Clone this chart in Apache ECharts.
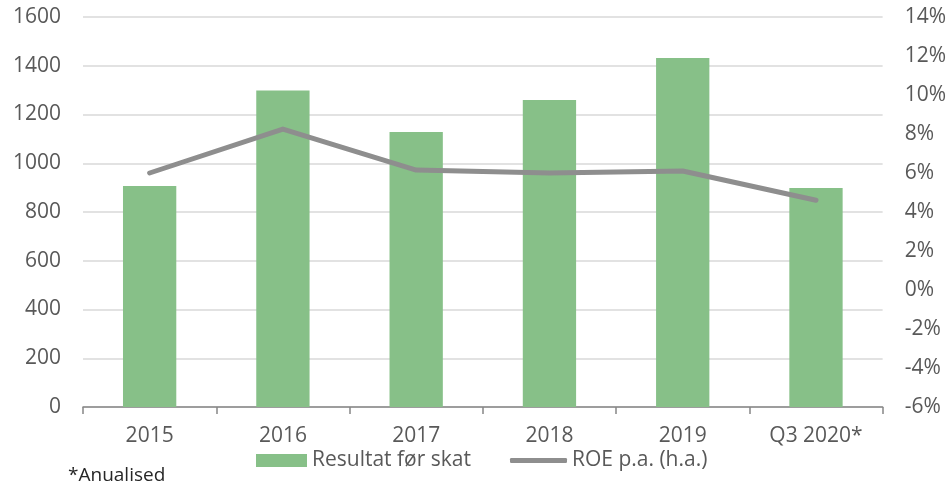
<!DOCTYPE html>
<html>
<head>
<meta charset="utf-8">
<script src="https://cdn.jsdelivr.net/npm/echarts@6/dist/echarts.min.js"></script>
<style>
  html, body { margin: 0; padding: 0; background: #fff; }
  #chart { width: 949px; height: 488px; }
</style>
</head>
<body>
<div id="chart"></div>
<script>
// 数据
const categories = ['2015', '2016', '2017', '2018', '2019', 'Q3 2020*'];
const resultatFoerSkat = [907, 1298, 1128, 1260, 1432, 898];
const roe = [6.0, 8.25, 6.15, 6.0, 6.1, 4.6];   // procent, højre akse

const textColor = '#595959';
const font = 'Open Sans';

const chart = echarts.init(document.getElementById('chart'));

const option = {
  animation: false,
  textStyle: { fontFamily: font },
  grid: { left: 83, right: 63, top: 17, bottom: 81 },
  legend: [
    {
      left: 256, top: 450, padding: 0,
      itemWidth: 51, itemHeight: 13,
      textStyle: { fontSize: 21, color: textColor, fontFamily: font },
      data: [{ name: 'Resultat før skat', icon: 'rect' }]
    },
    {
      left: 510, top: 450, padding: 0,
      itemWidth: 57, itemHeight: 5,
      textStyle: { fontSize: 21, color: textColor, fontFamily: font },
      data: [{ name: 'ROE p.a. (h.a.)', icon: 'roundRect' }]
    }
  ],
  xAxis: {
    type: 'category',
    data: categories,
    axisLine: { lineStyle: { color: '#868686', width: 1.5 } },
    axisTick: { show: true, length: 7, lineStyle: { color: '#868686', width: 1.5 } },
    axisLabel: { color: textColor, fontSize: 21, margin: 19 }
  },
  yAxis: [
    {
      type: 'value', min: 0, max: 1600, interval: 200,
      axisLine: { show: false }, axisTick: { show: false },
      splitLine: { lineStyle: { color: '#d9d9d9', width: 1.5 } },
      axisLabel: { color: textColor, fontSize: 21, margin: 22, formatter: v => String(v) }
    },
    {
      type: 'value', min: -6, max: 14, interval: 2,
      axisLine: { show: false }, axisTick: { show: false },
      splitLine: { show: false },
      axisLabel: { color: textColor, fontSize: 21, margin: 22, formatter: '{value}%' }
    }
  ],
  series: [
    {
      name: 'Resultat før skat',
      type: 'bar',
      data: resultatFoerSkat,
      barCategoryGap: '60%',
      itemStyle: { color: '#87c088' }
    },
    {
      name: 'ROE p.a. (h.a.)',
      type: 'line',
      yAxisIndex: 1,
      data: roe,
      symbol: 'none',
      lineStyle: { color: '#8e8e8e', width: 5, cap: 'round', join: 'round' },
      itemStyle: { color: '#8e8e8e' }
    }
  ],
  graphic: [
    {
      type: 'text', left: 68, top: 466,
      style: { text: '*Anualised', fontSize: 19, fill: '#262626', fontFamily: font }
    }
  ]
};

chart.setOption(option);
</script>
</body>
</html>
